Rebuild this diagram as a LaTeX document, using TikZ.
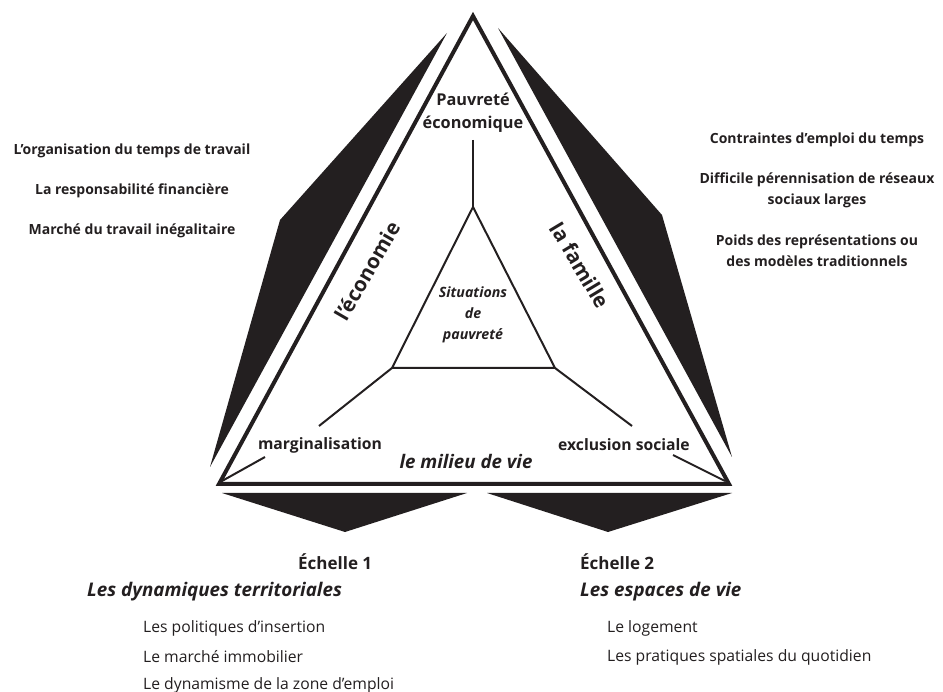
\documentclass[tikz,border=0pt]{standalone}
\usepackage{fontspec}
\setmainfont{Open Sans}
\definecolor{ink}{HTML}{231F20}
\begin{document}
\begin{tikzpicture}[x=1pt,y=-1pt,
  every node/.style={inner sep=0pt, text=ink},
  blade/.style={fill=ink, draw=none},
  frame/.style={draw=ink, line width=4pt, line join=miter},
  branch/.style={draw=ink, line width=2pt},
  side/.style={font=\bfseries\fontsize{14}{21}\selectfont, align=center},
  corner/.style={font=\bfseries\fontsize{15.7}{18}\selectfont},
  axis/.style={font=\bfseries\fontsize{20.5}{22}\selectfont},
  echelle/.style={font=\bfseries\fontsize{17}{19}\selectfont, anchor=west},
  echtitle/.style={font=\bfseries\itshape\fontsize{18.8}{22}\selectfont, anchor=west},
  item/.style={font=\fontsize{15.7}{18}\selectfont, anchor=west}
]
\useasboundingbox (0,0) rectangle (943,692);

% blades
\coordinate (lb1) at (447,33);
\coordinate (lb2) at (280,220);
\coordinate (lb3) at (210,467);
\coordinate (rb1) at (498,28);
\coordinate (rb2) at (662,215);
\coordinate (rb3) at (732,457);
\fill[blade] (lb1) -- (lb2) -- (lb3) -- cycle;
\fill[blade] (rb1) -- (rb2) -- (rb3) -- cycle;
\coordinate (d1a) at (222,493);
\coordinate (d1b) at (467,493);
\coordinate (d1c) at (345,532);
\coordinate (d2a) at (487,493);
\coordinate (d2b) at (732,493);
\coordinate (d2c) at (608,532);
\fill[blade] (d1a) -- (d1b) -- (d1c) -- cycle;
\fill[blade] (d2a) -- (d2b) -- (d2c) -- cycle;

% main triangle
\coordinate (A) at (473,16);
\coordinate (B) at (219,484);
\coordinate (C) at (729,484);
\draw[frame] (A) -- (B) -- (C) -- cycle;

% inner triangle
\coordinate (iA) at (473,207);
\coordinate (iB) at (392,368);
\coordinate (iC) at (555,368);
\draw[branch, line join=miter] (iA) -- (iB) -- (iC) -- cycle;

% texts inside
\node[align=center, font=\bfseries\fontsize{16.3}{23}\selectfont] (pe) at (473,113) {Pauvreté\\économique};
\node[align=center, font=\bfseries\itshape\fontsize{14.2}{21}\selectfont] (sp) at (473,315) {Situations\\de\\pauvreté};
\node[corner] (marg) at (320,445) {marginalisation};
\node[corner] (excl) at (624,445) {exclusion sociale};
\node[font=\bfseries\itshape\fontsize{18.7}{22}\selectfont] (milieu) at (466,461) {le milieu de vie};
\node[axis, rotate=60] (eco) at (367,271) {l’économie};
\node[axis, rotate=-59] (fam) at (580,265) {la famille};

% branches
\coordinate (pe1) at (473,140);
\draw[branch] (pe1) -- (iA);
\coordinate (m1) at (319,426);
\draw[branch] (iB) -- (m1);
\coordinate (e1) at (632,426);
\draw[branch] (iC) -- (e1);
\coordinate (m2) at (265,457);
\coordinate (m3) at (222,481);
\draw[branch] (m2) -- (m3);
\coordinate (e2) at (673,455);
\coordinate (e3) at (725,481);
\draw[branch] (e2) -- (e3);

% left list
\node[side] (l1) at (132,151) {L’organisation du temps de travail};
\node[side] (l2) at (132,191) {La responsabilité financière};
\node[side] (l3) at (132,231) {Marché du travail inégalitaire};

% right list
\node[side] (r1) at (817,140) {Contraintes d’emploi du temps};
\node[side] (r2) at (817,190) {Difficile pérennisation de réseaux\\sociaux larges};
\node[side] (r3) at (817,251) {Poids des représentations ou\\des modèles traditionnels};

% bottom left
\node[echelle] (s1) at (298,562) {Échelle 1};
\node[echtitle] (t1) at (87,592) {Les dynamiques territoriales};
\node[item] (i1) at (143,628) {Les politiques d’insertion};
\node[item] (i2) at (143,657) {Le marché immobilier};
\node[item] (i3) at (143,685) {Le dynamisme de la zone d’emploi};

% bottom right
\node[echelle] (s2) at (580,562) {Échelle 2};
\node[echtitle] (t2) at (580,592) {Les espaces de vie};
\node[item] (i4) at (607,628) {Le logement};
\node[item] (i5) at (607,657) {Les pratiques spatiales du quotidien};
\end{tikzpicture}
\end{document}
